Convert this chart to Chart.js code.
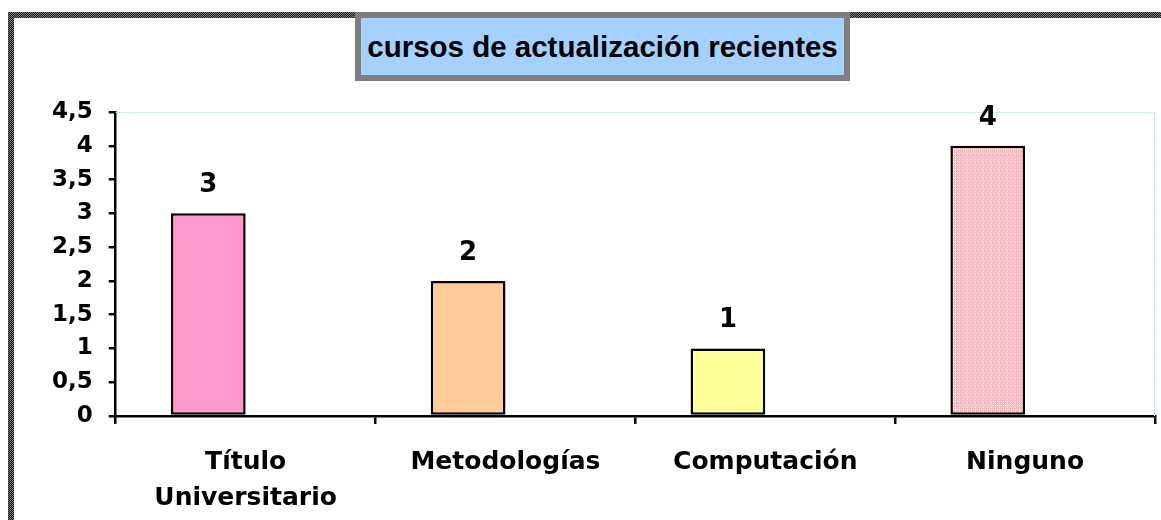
<!DOCTYPE html>
<html><head><meta charset="utf-8">
<script src="https://cdn.jsdelivr.net/npm/chart.js@4"></script>
<style>
html,body{margin:0;padding:0;background:#fff;}
#wrap{position:relative;width:1161px;height:520px;overflow:hidden;background:#fff;}
#wrap canvas{position:absolute;left:0;top:0;}
.frame{position:absolute;background:repeating-conic-gradient(#1e1e1e 0 25%, #7a7a7a 0 50%) 0 0/2px 2px;pointer-events:none;}
#ft{left:8px;top:12px;width:1153px;height:6px;}
#fl{left:8px;top:12px;width:6px;height:508px;}
#title{position:absolute;left:355px;top:12px;width:483px;height:57px;border:6px solid #7e7e7e;
  background:#a4d1ff;color:#000;font:bold 29.5px "Liberation Sans",Arial,sans-serif;text-align:center;line-height:57px;white-space:nowrap;}
</style>
</head><body>
<div id="wrap">
  <canvas id="c" width="1161" height="520"></canvas>
  <div class="frame" id="ft"></div>
  <div class="frame" id="fl"></div>
  <div id="title">cursos de actualización recientes</div>
</div>
<script>
const categories = [['Título','Universitario'], 'Metodologías', 'Computación', 'Ninguno'];
const values = [3, 2, 1, 4];
const emptySeries = [null, null, null, null];
const yTickLabels = ['0','0,5','1','1,5','2','2,5','3','3,5','4','4,5'];

function makePattern(){
  const c=document.createElement('canvas');c.width=4;c.height=4;
  const x=c.getContext('2d');
  x.fillStyle='#ffb8be';x.fillRect(0,0,4,4);
  x.fillStyle='#ffffff';x.fillRect(1,1,1,1);x.fillRect(3,3,1,1);x.fillRect(3,1,1,1);
  return x.createPattern(c,'repeat');
}
const barColors = ['#ff99cc','#ffcc99','#ffff99', makePattern()];

const FONT = '"DejaVu Sans", sans-serif';

const plotBorder = {
  id:'plotBorder',
  beforeDatasetsDraw(chart){
    const a=chart.chartArea, ctx=chart.ctx;
    ctx.save();
    ctx.strokeStyle='#bcdcfa';ctx.lineWidth=1;ctx.setLineDash([2,1]);
    ctx.beginPath();
    ctx.moveTo(a.left, a.top+0.5);ctx.lineTo(a.right-0.5, a.top+0.5);ctx.lineTo(a.right-0.5, a.bottom);
    ctx.stroke();
    ctx.restore();
  }
};
const valueLabels = {
  id:'valueLabels',
  afterDatasetsDraw(chart){
    const ctx=chart.ctx, meta=chart.getDatasetMeta(0);
    ctx.save();
    ctx.fillStyle='#000';ctx.font='bold 26px '+FONT;ctx.textAlign='center';ctx.textBaseline='alphabetic';
    meta.data.forEach((bar,i)=>{ ctx.fillText(String(values[i]), bar.x, bar.y-21); });
    ctx.restore();
  }
};

new Chart(document.getElementById('c'), {
  type:'bar',
  data:{
    labels:categories,
    datasets:[
      {label:'Serie1', data:values, backgroundColor:barColors, borderColor:'#000', borderWidth:2.5, borderSkipped:false},
      {label:'Serie2', data:emptySeries}
    ]
  },
  options:{
    responsive:false, animation:false,
    layout:{padding:{left:36, top:112, right:6, bottom:0}},
    datasets:{bar:{categoryPercentage:0.575, barPercentage:1.0}},
    plugins:{legend:{display:false}, tooltip:{enabled:false}, title:{display:false}},
    scales:{
      x:{
        afterFit(scale){ scale.height = 104; },
        grid:{offset:true, drawOnChartArea:false, drawTicks:true, tickLength:8, color:'#000', lineWidth:2.5},
        border:{display:true, color:'#000', width:2.5},
        ticks:{color:'#000', font:{family:FONT, size:25, weight:'bold', lineHeight:1.45}, padding:20, maxRotation:0, autoSkip:false}
      },
      y:{
        min:0, max:4.5,
        grid:{drawOnChartArea:false, drawTicks:true, tickLength:7, color:'#000', lineWidth:2.5},
        border:{display:true, color:'#000', width:2.5},
        ticks:{stepSize:0.5, color:'#000', padding:16, font:{family:FONT, size:23, weight:'bold'},
          callback:(v,i)=>yTickLabels[i]}
      }
    }
  },
  plugins:[plotBorder, valueLabels]
});
</script>
</body></html>
